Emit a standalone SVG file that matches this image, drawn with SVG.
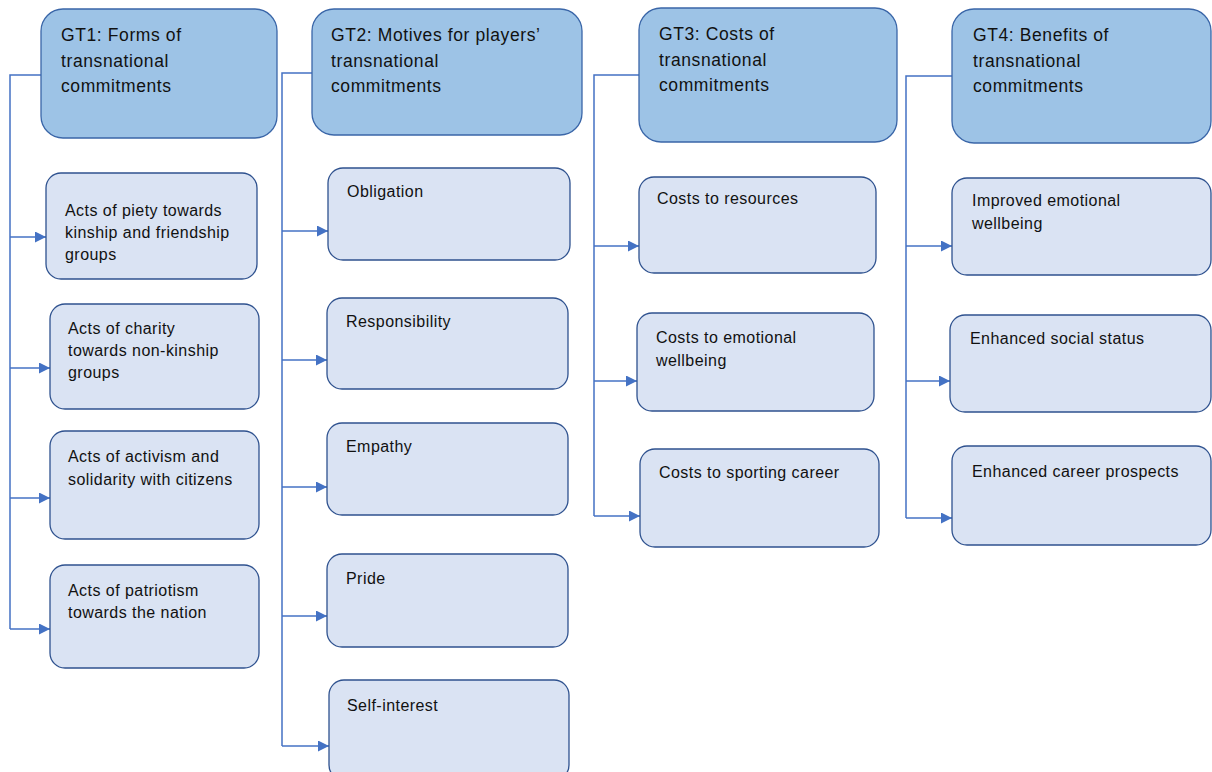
<svg xmlns="http://www.w3.org/2000/svg" width="1212" height="772" viewBox="0 0 1212 772">
<style>
.hd{fill:#9DC3E6;stroke:#3A66A8;stroke-width:1.3}
.ch{fill:#DAE3F3;stroke:#2F528F;stroke-width:1.3}
.th{font-family:"Liberation Sans",Arial,sans-serif;font-size:17.5px;letter-spacing:0.6px;fill:#111}
.tc{font-family:"Liberation Sans",Arial,sans-serif;font-size:16px;letter-spacing:0.45px;fill:#111}
.cn{fill:none;stroke:#4472C4;stroke-width:1.5}
</style>
<defs>
<marker id="arr" markerWidth="12" markerHeight="12" refX="11" refY="5.5" orient="auto" markerUnits="userSpaceOnUse">
<path d="M0,0 L11,5.5 L0,11 Z" fill="#4472C4"/>
</marker>
</defs>
<rect width="1212" height="772" fill="#fff"/>
<g id="connectors">
<polyline class="cn" points="41,75 10,75 10,629"/>
<line class="cn" x1="10" y1="237" x2="46" y2="237" marker-end="url(#arr)"/>
<line class="cn" x1="10" y1="368" x2="50" y2="368" marker-end="url(#arr)"/>
<line class="cn" x1="10" y1="498" x2="50" y2="498" marker-end="url(#arr)"/>
<line class="cn" x1="10" y1="629" x2="50" y2="629" marker-end="url(#arr)"/>
<polyline class="cn" points="312,73 282,73 282,746"/>
<line class="cn" x1="282" y1="231" x2="328" y2="231" marker-end="url(#arr)"/>
<line class="cn" x1="282" y1="360" x2="327" y2="360" marker-end="url(#arr)"/>
<line class="cn" x1="282" y1="487" x2="327" y2="487" marker-end="url(#arr)"/>
<line class="cn" x1="282" y1="616" x2="327" y2="616" marker-end="url(#arr)"/>
<line class="cn" x1="282" y1="746" x2="329" y2="746" marker-end="url(#arr)"/>
<polyline class="cn" points="639,75 594,75 594,516"/>
<line class="cn" x1="594" y1="246" x2="639" y2="246" marker-end="url(#arr)"/>
<line class="cn" x1="594" y1="381" x2="637" y2="381" marker-end="url(#arr)"/>
<line class="cn" x1="594" y1="516" x2="640" y2="516" marker-end="url(#arr)"/>
<polyline class="cn" points="952,76 906,76 906,518"/>
<line class="cn" x1="906" y1="246" x2="952" y2="246" marker-end="url(#arr)"/>
<line class="cn" x1="906" y1="381" x2="950" y2="381" marker-end="url(#arr)"/>
<line class="cn" x1="906" y1="518" x2="952" y2="518" marker-end="url(#arr)"/>
</g>
<g id="gt1">
<rect class="hd" x="41" y="9" width="236" height="129" rx="22"/>
<text class="th" x="61" y="41">GT1: Forms of</text>
<text class="th" x="61" y="67">transnational</text>
<text class="th" x="61" y="92">commitments</text>
</g>
<g id="gt1a">
<rect class="ch" x="46" y="173" width="211" height="106" rx="15"/>
<text class="tc" x="65" y="216">Acts of piety towards</text>
<text class="tc" x="65" y="238">kinship and friendship</text>
<text class="tc" x="65" y="260">groups</text>
</g>
<g id="gt1b">
<rect class="ch" x="50" y="304" width="209" height="105" rx="15"/>
<text class="tc" x="68" y="334">Acts of charity</text>
<text class="tc" x="68" y="356">towards non-kinship</text>
<text class="tc" x="68" y="378">groups</text>
</g>
<g id="gt1c">
<rect class="ch" x="50" y="431" width="209" height="108" rx="15"/>
<text class="tc" x="68" y="462">Acts of activism and</text>
<text class="tc" x="68" y="485">solidarity with citizens</text>
</g>
<g id="gt1d">
<rect class="ch" x="50" y="565" width="209" height="103" rx="15"/>
<text class="tc" x="68" y="596">Acts of patriotism</text>
<text class="tc" x="68" y="618">towards the nation</text>
</g>
<g id="gt2">
<rect class="hd" x="312" y="9" width="270" height="126" rx="22"/>
<text class="th" x="331" y="41">GT2: Motives for players’</text>
<text class="th" x="331" y="67">transnational</text>
<text class="th" x="331" y="92">commitments</text>
</g>
<g id="gt2a">
<rect class="ch" x="328" y="168" width="242" height="92" rx="15"/>
<text class="tc" x="347" y="197">Obligation</text>
</g>
<g id="gt2b">
<rect class="ch" x="327" y="298" width="241" height="91" rx="15"/>
<text class="tc" x="346" y="327">Responsibility</text>
</g>
<g id="gt2c">
<rect class="ch" x="327" y="423" width="241" height="92" rx="15"/>
<text class="tc" x="346" y="452">Empathy</text>
</g>
<g id="gt2d">
<rect class="ch" x="327" y="554" width="241" height="93" rx="15"/>
<text class="tc" x="346" y="584">Pride</text>
</g>
<g id="gt2e">
<rect class="ch" x="329" y="680" width="240" height="100" rx="15"/>
<text class="tc" x="347" y="711">Self-interest</text>
</g>
<g id="gt3">
<rect class="hd" x="639" y="8" width="258" height="134" rx="22"/>
<text class="th" x="659" y="40">GT3: Costs of</text>
<text class="th" x="659" y="66">transnational</text>
<text class="th" x="659" y="91">commitments</text>
</g>
<g id="gt3a">
<rect class="ch" x="639" y="177" width="237" height="96" rx="15"/>
<text class="tc" x="657" y="204">Costs to resources</text>
</g>
<g id="gt3b">
<rect class="ch" x="637" y="313" width="237" height="98" rx="15"/>
<text class="tc" x="656" y="343">Costs to emotional</text>
<text class="tc" x="656" y="366">wellbeing</text>
</g>
<g id="gt3c">
<rect class="ch" x="640" y="449" width="239" height="98" rx="15"/>
<text class="tc" x="659" y="478">Costs to sporting career</text>
</g>
<g id="gt4">
<rect class="hd" x="952" y="9" width="259" height="134" rx="22"/>
<text class="th" x="973" y="41">GT4: Benefits of</text>
<text class="th" x="973" y="67">transnational</text>
<text class="th" x="973" y="92">commitments</text>
</g>
<g id="gt4a">
<rect class="ch" x="952" y="178" width="259" height="97" rx="15"/>
<text class="tc" x="972" y="206">Improved emotional</text>
<text class="tc" x="972" y="229">wellbeing</text>
</g>
<g id="gt4b">
<rect class="ch" x="950" y="315" width="261" height="97" rx="15"/>
<text class="tc" x="970" y="344">Enhanced social status</text>
</g>
<g id="gt4c">
<rect class="ch" x="952" y="446" width="259" height="99" rx="15"/>
<text class="tc" x="972" y="477">Enhanced career prospects</text>
</g>
</svg>
